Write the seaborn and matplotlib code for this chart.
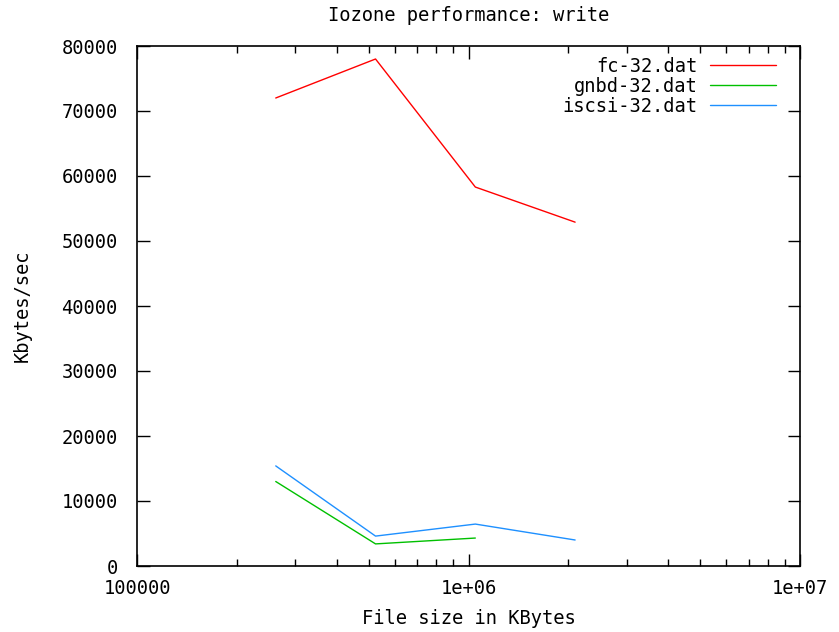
import matplotlib
matplotlib.use("Agg")
import matplotlib.pyplot as plt
import seaborn as sns
import pandas as pd
from matplotlib.ticker import LogLocator, FixedLocator, FuncFormatter

# Data
sizes_fc = [262144, 524288, 1048576, 2097152]
fc = [72000, 78000, 58300, 52900]
sizes_gnbd = [262144, 524288, 1048576]
gnbd = [13000, 3400, 4300]
sizes_iscsi = [262144, 524288, 1048576, 2097152]
iscsi = [15400, 4600, 6450, 4000]
series_names = ["fc-32.dat", "gnbd-32.dat", "iscsi-32.dat"]
colors = ["#ff0000", "#00c000", "#1e90ff"]
xtick_vals = [1e5, 1e6, 1e7]
xtick_labels = ["100000", "1e+06", "1e+07"]

rows = []
for name, xs, ys in zip(series_names, [sizes_fc, sizes_gnbd, sizes_iscsi], [fc, gnbd, iscsi]):
    for x, y in zip(xs, ys):
        rows.append({"size": x, "val": y, "series": name})
df = pd.DataFrame(rows)

sns.set_theme(style="white")
plt.rcParams['font.family'] = ['DejaVu Sans Mono']
plt.rcParams['text.color'] = 'black'
plt.rcParams['axes.labelcolor'] = 'black'

FS = 13.5
fig = plt.figure(figsize=(8.39, 6.32), dpi=100)
ax = fig.add_axes([137/839, 1-566/632, (800-137)/839, (566-46)/632])

sns.lineplot(data=df, x="size", y="val", hue="series", palette=dict(zip(series_names, colors)),
             linewidth=1.0, ax=ax, sort=False)

ax.set_xscale("log")
ax.set_xlim(1e5, 1e7)
ax.set_ylim(0, 80000)
ax.xaxis.set_major_locator(FixedLocator(xtick_vals))
ax.xaxis.set_major_formatter(FuncFormatter(lambda v, p: dict(zip(xtick_vals, xtick_labels)).get(v, "")))
ax.xaxis.set_minor_locator(LogLocator(base=10, subs=range(2, 10)))
ax.xaxis.set_minor_formatter(FuncFormatter(lambda v, p: ""))
ax.set_yticks(range(0, 80001, 10000))

for s in ax.spines.values():
    s.set_color("black")
    s.set_linewidth(1.2)

ax.tick_params(axis="both", which="major", direction="in", length=9, width=1,
               top=True, right=True, bottom=True, left=True,
               labelsize=FS, labelcolor="black", color="black")
ax.tick_params(axis="both", which="minor", direction="in", length=5, width=1,
               top=True, right=True, bottom=True, left=True, color="black")
ax.tick_params(axis="x", which="major", pad=9)
ax.tick_params(axis="y", which="major", pad=14)

ax.set_xlabel("File size in KBytes", fontsize=FS, labelpad=8)
ax.set_ylabel("Kbytes/sec", fontsize=FS, labelpad=21)
ax.set_title("Iozone performance: write", fontsize=FS, pad=18, color="black")

handles, labels = ax.get_legend_handles_labels()
leg = ax.legend(handles, labels, loc="upper right", bbox_to_anchor=(776/839, 1-57/632),
                bbox_transform=fig.transFigure, frameon=False, borderpad=0, borderaxespad=0,
                markerfirst=False, handlelength=3.5, fontsize=FS, labelspacing=0.05,
                handletextpad=0.7)
for t in leg.get_texts():
    t.set_ha("right")
    t.set_color("black")
leg._legend_box.align = "right"

fig.savefig("out.png", dpi=100)
